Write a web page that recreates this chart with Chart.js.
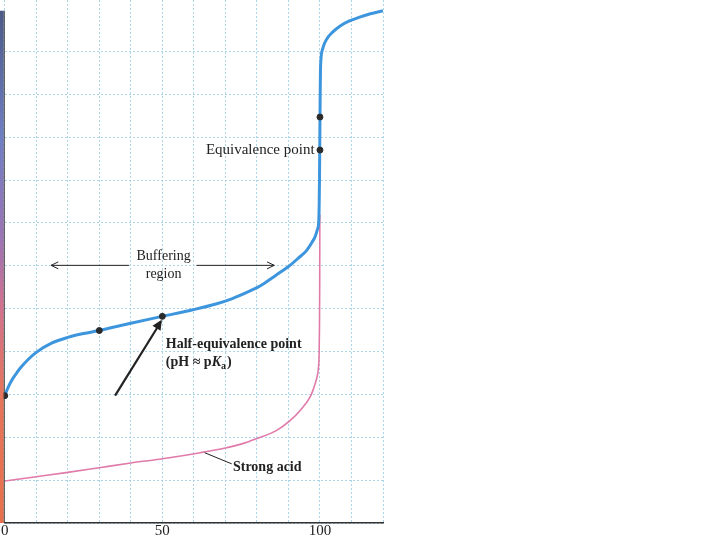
<!DOCTYPE html>
<html>
<head>
<meta charset="utf-8">
<script src="https://cdn.jsdelivr.net/npm/chart.js@4.4.0/dist/chart.umd.min.js"></script>
<style>
  html, body { margin: 0; padding: 0; background: #fff; }
  #wrap { width: 720px; height: 540px; }
</style>
</head>
<body>
<div id="wrap"><canvas id="titration" width="720" height="540"></canvas></div>
<script>
// volume of base added (% of equivalence) and pH
const weakX = [0, 1, 2, 3.5, 5, 7.5, 10, 15, 20, 25, 30, 40, 50, 60, 67, 72, 78, 81, 85.3, 88, 90.5, 93, 95.8, 97.5, 98.4, 99.2, 99.6, 99.75, 99.85, 99.95, 100.05, 100.15, 100.35, 100.8, 102, 104, 106.3, 109, 112.6, 116, 120];
const weakPH = [2.97, 3.15, 3.3, 3.47, 3.62, 3.82, 3.98, 4.2, 4.33, 4.42, 4.49, 4.66, 4.82, 4.98, 5.11, 5.23, 5.42, 5.53, 5.74, 5.88, 6.01, 6.17, 6.36, 6.55, 6.67, 6.85, 7.02, 7.4, 8.0, 8.9, 9.8, 10.5, 10.85, 11.05, 11.27, 11.45, 11.59, 11.7, 11.8, 11.88, 11.95];
const strongX = [0, 10, 20, 30, 40, 50, 62, 70, 75, 80, 86, 90.5, 94, 96.8, 97.8, 98.6, 99.2, 99.55, 99.75, 99.85, 99.92, 99.96];
const strongPH = [0.98, 1.08, 1.18, 1.29, 1.4, 1.5, 1.64, 1.75, 1.84, 1.97, 2.15, 2.39, 2.65, 2.93, 3.1, 3.28, 3.45, 3.65, 4.0, 4.6, 5.6, 7.2];
const markX = [0, 30, 50, 100, 100];
const markPH = [2.97, 4.49, 4.82, 8.7, 9.47];
const tickLabels = [0, 50, 100];

const toXY = (xs, ys) => xs.map((x, i) => ({ x: x, y: ys[i] }));
const serif = '"Liberation Serif", "DejaVu Serif", serif';

const arrowHead = (ctx, x1, y1, x2, y2, size, filled) => {
  const a = Math.atan2(y2 - y1, x2 - x1);
  ctx.beginPath();
  ctx.moveTo(x2 - size * Math.cos(a - 0.45), y2 - size * Math.sin(a - 0.45));
  ctx.lineTo(x2, y2);
  ctx.lineTo(x2 - size * Math.cos(a + 0.45), y2 - size * Math.sin(a + 0.45));
  if (filled) { ctx.closePath(); ctx.fill(); } else ctx.stroke();
};

// coloured pH indicator strip down the left edge
const strip = {
  id: 'strip',
  afterDraw(chart) {
    const { ctx, chartArea } = chart;
    const top = chart.scales.y.getPixelForValue(11.95);
    const g = ctx.createLinearGradient(0, top, 0, chartArea.bottom);
    g.addColorStop(0, '#4b5a86');
    g.addColorStop(0.25, '#6f7fc4');
    g.addColorStop(0.45, '#9f74b4');
    g.addColorStop(0.58, '#d2728e');
    g.addColorStop(0.75, '#e5755a');
    g.addColorStop(1, '#e8704c');
    ctx.save();
    ctx.fillStyle = g;
    ctx.fillRect(0, top, chartArea.left - 1, chartArea.bottom - top);
    ctx.strokeStyle = '#3a3a3a';
    ctx.lineWidth = 1;
    ctx.beginPath();
    ctx.moveTo(chartArea.left - 0.5, top);
    ctx.lineTo(chartArea.left - 0.5, chartArea.bottom);
    ctx.stroke();
    ctx.restore();
  }
};

const notes = {
  id: 'notes',
  afterDatasetsDraw(chart) {
    const { ctx } = chart;
    const px = v => chart.scales.x.getPixelForValue(v);
    const py = v => chart.scales.y.getPixelForValue(v);
    ctx.save();
    ctx.fillStyle = '#222';
    ctx.strokeStyle = '#222';
    ctx.textBaseline = 'middle';

    ctx.font = '15px ' + serif;
    ctx.textAlign = 'right';
    ctx.fillText('Equivalence point', px(98.3), py(8.7));

    ctx.font = '14px ' + serif;
    ctx.textAlign = 'center';
    ctx.fillText('Buffering', px(50.4), py(6.22));
    ctx.fillText('region', px(50.4), py(5.8));

    // buffering region double arrow
    ctx.lineWidth = 1;
    ctx.beginPath();
    ctx.moveTo(px(14.7), py(6.01)); ctx.lineTo(px(39.4), py(6.01));
    ctx.moveTo(px(60.8), py(6.01)); ctx.lineTo(px(85.5), py(6.01));
    ctx.stroke();
    arrowHead(ctx, px(20), py(6.01), px(14.7), py(6.01), 8, false);
    arrowHead(ctx, px(80), py(6.01), px(85.5), py(6.01), 8, false);

    ctx.font = 'bold 14px ' + serif;
    ctx.textAlign = 'left';
    ctx.fillText('Half-equivalence point', px(51.1), py(4.16));
    let x0 = px(51.1);
    const y2 = py(3.74);
    const part1 = '(pH \u2248 p';
    ctx.fillText(part1, x0, y2);
    x0 += ctx.measureText(part1).width;
    ctx.font = 'bold italic 14px ' + serif;
    ctx.fillText('K', x0, y2);
    x0 += ctx.measureText('K').width;
    ctx.font = 'bold 10px ' + serif;
    ctx.fillText('a', x0, y2 + 4);
    x0 += ctx.measureText('a').width + 1;
    ctx.font = 'bold 14px ' + serif;
    ctx.fillText(')', x0, y2);

    // arrow to the half-equivalence point
    ctx.lineWidth = 2.2;
    ctx.beginPath();
    ctx.moveTo(px(35), py(2.97));
    ctx.lineTo(px(49.6), py(4.7));
    ctx.stroke();
    arrowHead(ctx, px(35), py(2.97), px(49.8), py(4.74), 11, true);

    ctx.fillText('Strong acid', px(72.4), py(1.3));
    ctx.lineWidth = 1;
    ctx.beginPath();
    ctx.moveTo(px(63.4), py(1.64));
    ctx.lineTo(px(72), py(1.38));
    ctx.stroke();
    ctx.restore();
  }
};

new Chart(document.getElementById('titration'), {
  type: 'scatter',
  data: {
    datasets: [
      {
        label: 'Strong acid',
        data: toXY(strongX, strongPH),
        showLine: true,
        borderColor: '#e07aa9',
        borderWidth: 1.6,
        pointRadius: 0,
        cubicInterpolationMode: 'monotone',
        order: 3
      },
      {
        label: 'Weak acid',
        data: toXY(weakX, weakPH),
        showLine: true,
        borderColor: '#3d96dd',
        borderWidth: 3,
        pointRadius: 0,
        cubicInterpolationMode: 'monotone',
        order: 2
      },
      {
        label: 'Points',
        data: toXY(markX, markPH),
        showLine: false,
        backgroundColor: '#2b2b2b',
        borderColor: '#2b2b2b',
        pointRadius: 3,
        clip: false,
        order: 1
      }
    ]
  },
  options: {
    responsive: false,
    animation: false,
    layout: { autoPadding: false, padding: { left: 1, right: 337, top: 0, bottom: 0 } },
    plugins: { legend: { display: false }, tooltip: { enabled: false } },
    scales: {
      x: {
        type: 'linear',
        min: 0,
        max: 120,
        grid: { color: '#aed4e8', drawTicks: false },
        border: { color: '#333', width: 1.5, dash: [2, 2] },
        ticks: {
          stepSize: 10,
          padding: 1,
          autoSkip: false,
          maxRotation: 0,
          color: '#222',
          font: { family: serif, size: 15, lineHeight: 1 },
          callback: v => tickLabels.includes(v) ? String(v) : ''
        }
      },
      y: {
        type: 'linear',
        min: 0,
        max: 12.2,
        grid: {
          color: ctx => (ctx.tick && Number.isInteger(ctx.tick.value)) ? '#aed4e8' : 'rgba(0,0,0,0)',
          drawTicks: false
        },
        border: { display: false, dash: [2, 2] },
        ticks: { stepSize: 1, display: false }
      }
    }
  },
  plugins: [strip, notes]
});
</script>
</body>
</html>
